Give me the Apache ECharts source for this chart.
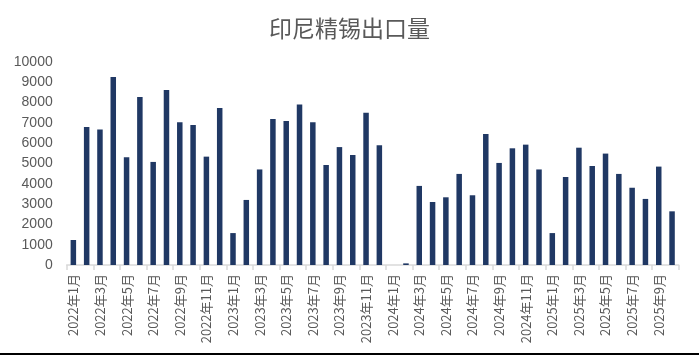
<!DOCTYPE html>
<html><head><meta charset="utf-8">
<script src="https://cdn.jsdelivr.net/npm/echarts@6/dist/echarts.min.js"></script>
<style>html,body{margin:0;padding:0;background:#fff;}#c{width:699px;height:357px;}</style>
</head><body><div id="c"></div>
<script>
const title = '印尼精锡出口量';
const categories = [
 '2022年1月','2022年2月','2022年3月','2022年4月','2022年5月','2022年6月','2022年7月','2022年8月','2022年9月','2022年10月','2022年11月','2022年12月',
 '2023年1月','2023年2月','2023年3月','2023年4月','2023年5月','2023年6月','2023年7月','2023年8月','2023年9月','2023年10月','2023年11月','2023年12月',
 '2024年1月','2024年2月','2024年3月','2024年4月','2024年5月','2024年6月','2024年7月','2024年8月','2024年9月','2024年10月','2024年11月','2024年12月',
 '2025年1月','2025年2月','2025年3月','2025年4月','2025年5月','2025年6月','2025年7月','2025年8月','2025年9月','2025年10月'
];
const values = [
 1230, 6790, 6670, 9250, 5300, 8260, 5070, 8610, 7020, 6890, 5330, 7720,
 1570, 3200, 4700, 7180, 7080, 7900, 7020, 4920, 5800, 5410, 7490, 5890,
 0, 80, 3890, 3100, 3330, 4480, 3430, 6440, 5020, 5740, 5920, 4700,
 1570, 4330, 5770, 4870, 5480, 4480, 3800, 3250, 4840, 2640
];
const yTicks = [0,1000,2000,3000,4000,5000,6000,7000,8000,9000,10000];

const chart = echarts.init(document.getElementById('c'));
chart.setOption({
  animation: false,
  title: {
    text: title, left: 'center', top: 12,
    textStyle: { fontSize: 23, fontWeight: 'normal', color: '#595959', fontFamily: 'Noto Sans CJK SC' }
  },
  grid: { left: 66.7, right: 20.3, top: 61.7, bottom: 92, containLabel: false },
  xAxis: {
    type: 'category', data: categories, boundaryGap: true,
    axisLine: { lineStyle: { color: '#d9d9d9', width: 1.5 } },
    axisTick: { show: true, interval: 1, length: 5, lineStyle: { color: '#d9d9d9', width: 1.5 } },
    axisLabel: { interval: 1, rotate: 90, margin: 9, fontSize: 13, color: '#595959', fontFamily: 'Noto Sans CJK SC' }
  },
  yAxis: {
    type: 'value', min: yTicks[0], max: yTicks[yTicks.length-1], interval: 1000,
    axisLine: { show: false }, axisTick: { show: false }, splitLine: { show: false },
    axisLabel: { margin: 14, fontSize: 14, color: '#595959', fontFamily: 'Liberation Sans', formatter: v => String(v) }
  },
  series: [{
    type: 'bar', data: values, barWidth: 5.5,
    itemStyle: { color: '#203864' }
  }],
  graphic: [{
    type: 'rect', left: 0, top: 353, shape: { width: 699, height: 2 }, style: { fill: '#000' }
  }]
});
</script></body></html>
